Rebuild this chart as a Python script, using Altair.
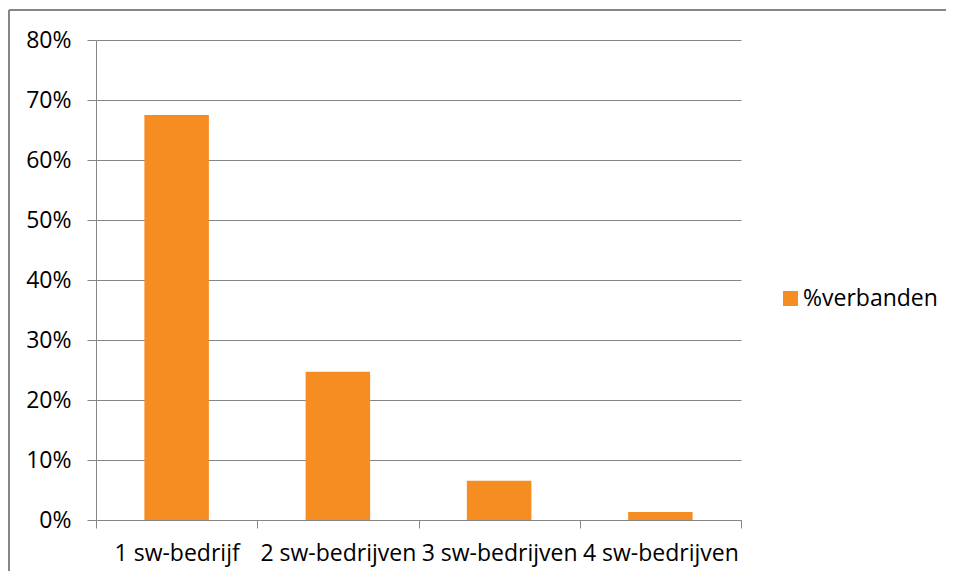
import altair as alt
import pandas as pd

categories = ["1 sw-bedrijf", "2 sw-bedrijven", "3 sw-bedrijven", "4 sw-bedrijven"]
values = [0.675, 0.247, 0.0655, 0.0135]
series = ["%verbanden"] * 4

df = pd.DataFrame({"categorie": categories, "waarde": values, "reeks": series})

FONT = "Open Sans"
GRID = "#868686"
ORANGE = "#F68D23"

bars = alt.Chart(df).mark_bar(width=alt.RelativeBandSize(0.4)).encode(
    x=alt.X("categorie:N", sort=categories,
            scale=alt.Scale(paddingInner=0, paddingOuter=0),
            axis=alt.Axis(title=None, labelAngle=0, tickBand="extent",
                          domainColor=GRID, tickColor=GRID, tickSize=8,
                          labelFont=FONT, labelFontSize=23, labelColor="black",
                          labelPadding=14)),
    y=alt.Y("waarde:Q",
            scale=alt.Scale(domain=[0, 0.8], nice=False),
            axis=alt.Axis(title=None, format=".0%",
                          values=[0, 0.1, 0.2, 0.3, 0.4, 0.5, 0.6, 0.7, 0.8],
                          grid=True, gridColor=GRID, gridOpacity=1,
                          domainColor=GRID, tickColor=GRID, tickSize=9,
                          labelFont=FONT, labelFontSize=23, labelColor="black",
                          labelPadding=16)),
    color=alt.Color("reeks:N", scale=alt.Scale(range=[ORANGE]),
                    legend=alt.Legend(title=None, orient="none", legendX=683,
                                      legendY=247, symbolType="square",
                                      symbolSize=225, symbolStrokeWidth=0,
                                      labelFont=FONT, labelFontSize=23,
                                      labelColor="black", labelOffset=1)),
)

# outer chart frame (only top and left edges are inside the window)
frame_top = alt.Chart(df).mark_rule(color=GRID, strokeWidth=1.5).encode(
    x=alt.value(-87), x2=alt.value(1000), y=alt.value(-30)
)
frame_left = alt.Chart(df).mark_rule(color=GRID, strokeWidth=1.5).encode(
    x=alt.value(-87), y=alt.value(-30), y2=alt.value(700)
)

chart = alt.layer(frame_top, frame_left, bars).properties(
    width=645, height=480,
    autosize=alt.AutoSizeParams(type="none"),
    padding={"left": 88, "top": 32, "right": 205, "bottom": 51},
).configure_view(stroke=None).configure_axis(gridWidth=1, domainWidth=1, tickWidth=1)

chart.save("out.html", embed_options={"renderer": "svg", "actions": False})
